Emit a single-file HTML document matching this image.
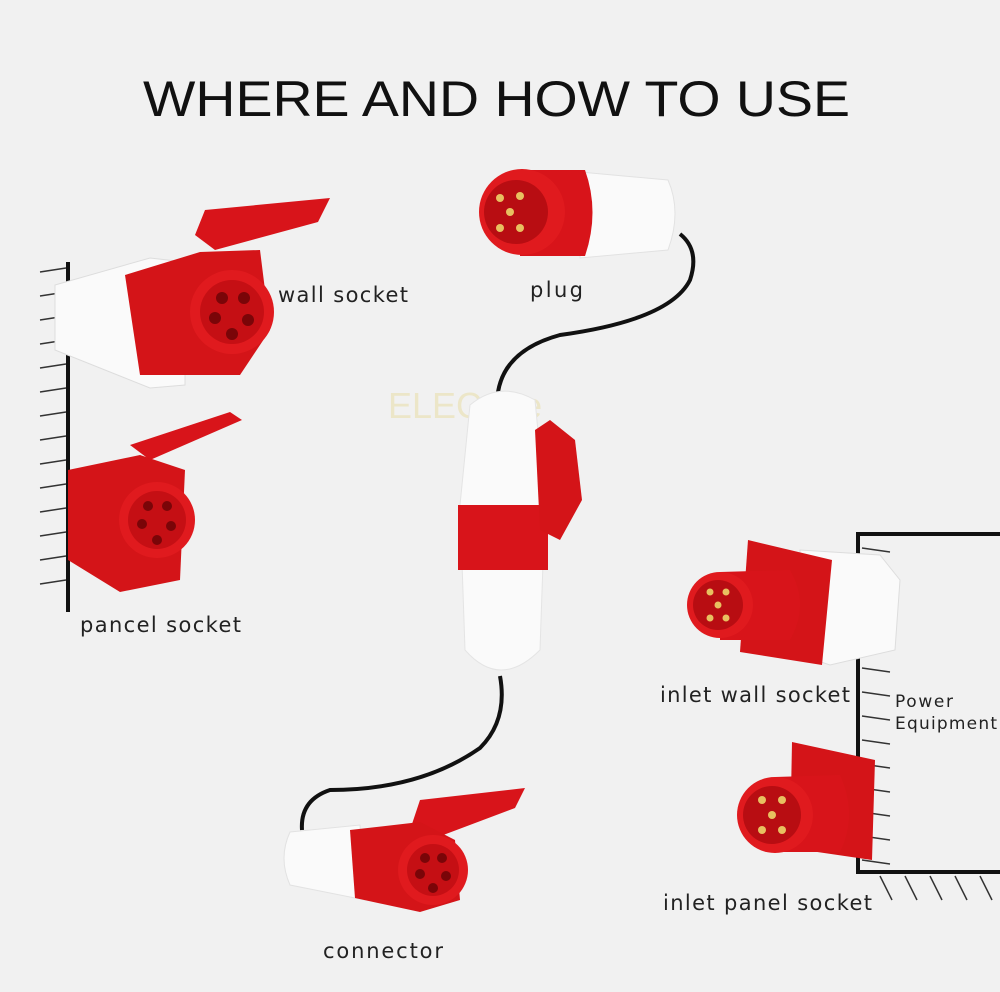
<!DOCTYPE html>
<html><head><meta charset="utf-8"><style>
html,body{margin:0;padding:0;background:#f1f1f1}
svg{display:block}
text{font-family:"DejaVu Sans","Liberation Sans",sans-serif}
</style></head><body>
<svg width="1000" height="992" viewBox="0 0 1000 992" xmlns="http://www.w3.org/2000/svg">
<rect width="1000" height="992" fill="#f1f1f1"/>
<text x="143" y="116" font-size="50" fill="#111" textLength="707" lengthAdjust="spacingAndGlyphs" style="font-family:'Liberation Sans',sans-serif">WHERE AND HOW TO USE</text>

<!-- left wall -->
<line x1="68" y1="262" x2="68" y2="612" stroke="#111" stroke-width="4"/>
<g stroke="#333" stroke-width="1.5">
<line x1="40" y1="272" x2="66" y2="268"/><line x1="40" y1="296" x2="66" y2="292"/><line x1="40" y1="320" x2="66" y2="316"/><line x1="40" y1="344" x2="66" y2="340"/><line x1="40" y1="368" x2="66" y2="364"/><line x1="40" y1="392" x2="66" y2="388"/><line x1="40" y1="416" x2="66" y2="412"/><line x1="40" y1="440" x2="66" y2="436"/><line x1="40" y1="464" x2="66" y2="460"/><line x1="40" y1="488" x2="66" y2="484"/><line x1="40" y1="512" x2="66" y2="508"/><line x1="40" y1="536" x2="66" y2="532"/><line x1="40" y1="560" x2="66" y2="556"/><line x1="40" y1="584" x2="66" y2="580"/>
</g>

<!-- wall socket -->
<polygon points="55,285 150,258 185,262 185,385 150,388 55,350" fill="#fafafa" stroke="#ddd"/>
<polygon points="195,235 205,210 330,198 318,222 215,250" fill="#d8141a"/>
<polygon points="125,275 200,252 260,250 270,330 240,375 140,375" fill="#d41418"/>
<circle cx="232" cy="312" r="42" fill="#e01a1e"/>
<circle cx="232" cy="312" r="32" fill="#c50f14"/>
<g fill="#7a0508"><circle cx="222" cy="298" r="6"/><circle cx="244" cy="298" r="6"/><circle cx="215" cy="318" r="6"/><circle cx="248" cy="320" r="6"/><circle cx="232" cy="334" r="6"/></g>
<text x="278" y="302" font-size="21" fill="#222" textLength="130">wall socket</text>

<!-- pancel socket -->
<polygon points="130,445 230,412 242,420 150,460" fill="#d8141a"/>
<polygon points="68,470 140,455 185,470 180,580 120,592 68,560" fill="#d41418"/>
<circle cx="157" cy="520" r="38" fill="#e01a1e"/>
<circle cx="157" cy="520" r="29" fill="#c50f14"/>
<g fill="#7a0508"><circle cx="148" cy="506" r="5"/><circle cx="167" cy="506" r="5"/><circle cx="142" cy="524" r="5"/><circle cx="171" cy="526" r="5"/><circle cx="157" cy="540" r="5"/></g>
<text x="80" y="632" font-size="21" fill="#222" textLength="161">pancel socket</text>

<!-- plug -->
<path d="M580,172 L668,180 Q682,212 668,250 L580,258 Z" fill="#fafafa" stroke="#e2e2e2"/>
<path d="M520,170 L585,170 Q600,212 585,256 L520,256 Z" fill="#d8141a"/>
<circle cx="522" cy="212" r="43" fill="#e01a1e"/>
<circle cx="516" cy="212" r="32" fill="#b80d12"/>
<g fill="#e8c060"><circle cx="500" cy="198" r="4"/><circle cx="520" cy="196" r="4"/><circle cx="500" cy="228" r="4"/><circle cx="520" cy="228" r="4"/><circle cx="510" cy="212" r="4"/></g>
<text x="530" y="297" font-size="21" fill="#222" textLength="53">plug</text>

<!-- cables -->
<path d="M680,234 Q700,250 690,280 Q670,320 560,335 Q505,350 498,392" fill="none" stroke="#111" stroke-width="4"/>
<path d="M500,676 Q508,720 480,748 Q420,790 330,790 Q300,800 302,830" fill="none" stroke="#111" stroke-width="4"/>

<!-- connector middle -->
<text x="388" y="418" font-size="36" style="fill:#ece6c8;font-family:'Liberation Sans',sans-serif">ELECpee</text>
<path d="M470,405 Q500,380 535,400 L545,505 L540,650 Q500,690 465,650 L460,505 Z" fill="#fafafa" stroke="#e4e4e4"/>
<rect x="458" y="505" width="90" height="65" fill="#d8141a"/>
<polygon points="535,430 550,420 575,440 582,500 560,540 540,530" fill="#d41418"/>
<!-- bottom connector -->
<path d="M290,832 L360,825 L365,900 L290,885 Q278,858 290,832 Z" fill="#fafafa" stroke="#e2e2e2"/>
<polygon points="410,830 420,800 525,788 515,808 430,840" fill="#d8141a"/>
<path d="M350,830 L420,822 L455,840 L460,900 L420,912 L355,898 Z" fill="#d41418"/>
<circle cx="433" cy="870" r="35" fill="#e01a1e"/>
<circle cx="433" cy="870" r="26" fill="#c50f14"/>
<g fill="#7a0508"><circle cx="425" cy="858" r="5"/><circle cx="442" cy="858" r="5"/><circle cx="420" cy="874" r="5"/><circle cx="446" cy="876" r="5"/><circle cx="433" cy="888" r="5"/></g>
<text x="323" y="958" font-size="21" fill="#222" textLength="120">connector</text>

<!-- right box -->
<path d="M1000,534 L858,534 L858,872 L1000,872" fill="none" stroke="#111" stroke-width="4"/>
<g stroke="#333" stroke-width="1.5">
<line x1="862" y1="548" x2="890" y2="552"/><line x1="862" y1="572" x2="890" y2="576"/><line x1="862" y1="596" x2="890" y2="600"/><line x1="862" y1="620" x2="890" y2="624"/><line x1="862" y1="644" x2="890" y2="648"/><line x1="862" y1="668" x2="890" y2="672"/><line x1="862" y1="692" x2="890" y2="696"/><line x1="862" y1="716" x2="890" y2="720"/><line x1="862" y1="740" x2="890" y2="744"/><line x1="862" y1="764" x2="890" y2="768"/><line x1="862" y1="788" x2="890" y2="792"/><line x1="862" y1="812" x2="890" y2="816"/><line x1="862" y1="836" x2="890" y2="840"/><line x1="862" y1="860" x2="890" y2="864"/>
<line x1="880" y1="876" x2="892" y2="900"/><line x1="905" y1="876" x2="917" y2="900"/><line x1="930" y1="876" x2="942" y2="900"/><line x1="955" y1="876" x2="967" y2="900"/><line x1="980" y1="876" x2="992" y2="900"/>
</g>
<!-- inlet wall socket -->
<polygon points="800,550 880,555 900,580 895,650 830,665 800,655" fill="#fafafa" stroke="#ddd"/>
<polygon points="748,540 832,560 822,665 740,652" fill="#d41418"/>
<path d="M720,572 L790,570 Q810,605 790,640 L720,640 Z" fill="#d8141a"/>
<circle cx="720" cy="605" r="33" fill="#e01a1e"/>
<circle cx="718" cy="605" r="25" fill="#b80d12"/>
<g fill="#e8c060"><circle cx="710" cy="592" r="3.5"/><circle cx="726" cy="592" r="3.5"/><circle cx="710" cy="618" r="3.5"/><circle cx="726" cy="618" r="3.5"/><circle cx="718" cy="605" r="3.5"/></g>
<text x="660" y="702" font-size="21" fill="#222" textLength="190">inlet wall socket</text>
<text x="895" y="707" font-size="17" fill="#222" textLength="58">Power</text>
<text x="895" y="729" font-size="17" fill="#222" textLength="102">Equipment</text>
<!-- inlet panel socket -->
<polygon points="792,742 875,760 872,860 790,848" fill="#d41418"/>
<path d="M775,777 L840,775 Q858,815 840,852 L775,852 Z" fill="#d8141a"/>
<circle cx="775" cy="815" r="38" fill="#e01a1e"/>
<circle cx="772" cy="815" r="29" fill="#b80d12"/>
<g fill="#e8c060"><circle cx="762" cy="800" r="4"/><circle cx="782" cy="800" r="4"/><circle cx="762" cy="830" r="4"/><circle cx="782" cy="830" r="4"/><circle cx="772" cy="815" r="4"/></g>
<text x="663" y="910" font-size="21" fill="#222" textLength="209">inlet panel socket</text>
</svg>
</body></html>
